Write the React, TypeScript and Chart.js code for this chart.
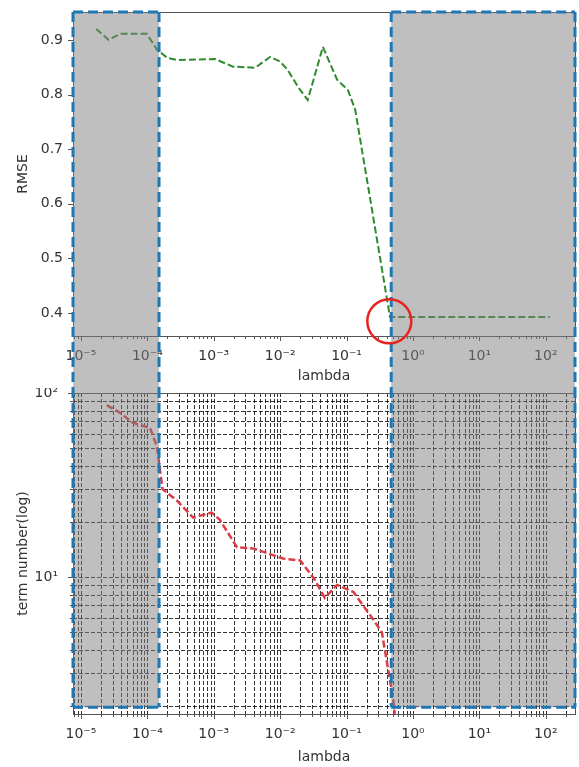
import React, { useEffect, useRef } from 'react';
import { Chart, registerables } from 'chart.js';
Chart.register(...registerables);

// ---------- data ----------
const rmseLambda = [1.7e-5, 2.6e-5, 3.9e-5, 9.8e-5, 1.4e-4, 2.0e-4, 2.8e-4, 1.05e-3, 1.3e-3, 1.95e-3, 4.2e-3, 7.1e-3, 1.0e-2, 1.3e-2, 1.9e-2, 2.6e-2, 4.4e-2, 7.2e-2, 1.05e-1, 1.35e-1, 4.5e-1, 1.0, 3.0, 10, 30, 115];
const rmseValues = [0.920, 0.900, 0.911, 0.911, 0.882, 0.867, 0.863, 0.865, 0.860, 0.851, 0.849, 0.869, 0.860, 0.845, 0.812, 0.790, 0.887, 0.827, 0.808, 0.772, 0.393, 0.393, 0.393, 0.393, 0.393, 0.393];

const termLambda = [2.45e-5, 3.9e-5, 6.0e-5, 1.1e-4, 1.4e-4, 1.55e-4, 1.7e-4, 2.8e-4, 4.9e-4, 9.3e-4, 1.23e-3, 2.24e-3, 3.9e-3, 1.1e-2, 2.0e-2, 3.3e-2, 4.7e-2, 7.2e-2, 1.26e-1, 2.5e-1, 3.4e-1, 0.5, 0.63];
const termValues = [86, 78, 69, 64.5, 51, 38, 30, 26, 21, 22.4, 20.5, 14.5, 14.3, 12.6, 12.3, 9.7, 7.7, 9.05, 8.3, 5.9, 5.0, 2.2, 1];

const xMajorTicks = [1e-5, 1e-4, 1e-3, 1e-2, 1e-1, 1, 10, 100];
const xMajorLabels = ['10\u207B\u2075', '10\u207B\u2074', '10\u207B\u00B3', '10\u207B\u00B2', '10\u207B\u00B9', '10\u2070', '10\u00B9', '10\u00B2'];
const minorMultipliers = [2, 3, 4, 5, 6, 7, 8, 9];
const rmseTicks = [0.4, 0.5, 0.6, 0.7, 0.8, 0.9];
const termMajorTicks = [10, 100];
const termMajorLabels = ['10\u00B9', '10\u00B2'];

const xMin = 7.6e-6;
const xMax = 275;
const rmseMin = 0.358;
const rmseMax = 0.951;
const termMin = 1.8;
const termMax = 100;

// annotation regions (data units)
const leftRegion = [xMin, 1.5e-4];
const rightRegion = [0.47, xMax];
const circleCenter = { x: 0.44, y: 0.385 };
const boxBottomTerm = 1.96;

// ---------- styles ----------
const W = 579;
const TOP_H = 388;
const BOT_H = 379;
const FONT = 'DejaVu Sans';
const TEXT = '#333333';
const SPINE = '#555555';
const GREY = 'rgba(128,128,128,0.5)';
const BLUE = '#1f77b4';
const BLUE_DASH = [10, 5];

function logTickValues(lo: number, hi: number): number[] {
  const out: number[] = [];
  const e0 = Math.floor(Math.log10(lo));
  const e1 = Math.ceil(Math.log10(hi));
  for (let e = e0; e <= e1; e++) {
    for (const m of [1, ...minorMultipliers]) {
      const v = m * Math.pow(10, e);
      if (v >= lo * 1.0001 && v <= hi * 0.9999) out.push(v);
    }
  }
  return out;
}
const isMajor = (v: number) => Math.abs(Math.log10(v) - Math.round(Math.log10(v))) < 1e-9;
const findLabel = (v: number, majors: number[], labels: string[]) => {
  const i = majors.findIndex((m) => Math.abs(m - v) / m < 1e-6);
  return i >= 0 ? labels[i] : '';
};

function drawXTicks(ctx: CanvasRenderingContext2D, scale: any, area: any) {
  ctx.save();
  ctx.strokeStyle = SPINE;
  ctx.lineWidth = 1;
  for (const v of logTickValues(scale.min, scale.max)) {
    const x = Math.round(scale.getPixelForValue(v)) + 0.5;
    const len = isMajor(v) ? 5 : 3;
    ctx.beginPath();
    ctx.moveTo(x, area.bottom);
    ctx.lineTo(x, area.bottom + len);
    ctx.stroke();
  }
  ctx.restore();
}

function drawSpines(ctx: CanvasRenderingContext2D, area: any) {
  ctx.save();
  ctx.strokeStyle = SPINE;
  ctx.lineWidth = 1;
  ctx.strokeRect(Math.round(area.left) + 0.5, Math.round(area.top) + 0.5, Math.round(area.right - area.left), Math.round(area.bottom - area.top));
  ctx.restore();
}

function blueLine(ctx: CanvasRenderingContext2D, x1: number, y1: number, x2: number, y2: number) {
  ctx.save();
  ctx.strokeStyle = BLUE;
  ctx.lineWidth = 3;
  ctx.setLineDash(BLUE_DASH);
  ctx.beginPath();
  ctx.moveTo(x1, y1);
  ctx.lineTo(x2, y2);
  ctx.stroke();
  ctx.restore();
}

const topPlugin = {
  id: 'topDecor',
  afterDatasetsDraw(chart: any) {
    const { ctx, chartArea: a, scales } = chart;
    drawSpines(ctx, a);
    drawXTicks(ctx, scales.x, a);
    ctx.save();
    ctx.strokeStyle = SPINE;
    ctx.lineWidth = 1;
    for (const v of rmseTicks) {
      const y = Math.round(scales.y.getPixelForValue(v)) + 0.5;
      ctx.beginPath();
      ctx.moveTo(a.left - 5, y);
      ctx.lineTo(a.left, y);
      ctx.stroke();
    }
    ctx.restore();
  },
  afterDraw(chart: any) {
    const { ctx, chartArea: a, scales } = chart;
    const xs = scales.x;
    const yBottom = chart.height;
    ctx.save();
    ctx.fillStyle = GREY;
    for (const r of [leftRegion, rightRegion]) {
      const x1 = xs.getPixelForValue(r[0]);
      const x2 = xs.getPixelForValue(r[1]);
      ctx.fillRect(x1, a.top, x2 - x1, yBottom - a.top);
    }
    ctx.restore();
    for (const r of [leftRegion, rightRegion]) {
      const x1 = xs.getPixelForValue(r[0]);
      const x2 = xs.getPixelForValue(r[1]);
      blueLine(ctx, x1, a.top, x2, a.top);
      blueLine(ctx, x1, a.top, x1, yBottom);
      blueLine(ctx, x2, a.top, x2, yBottom);
    }
    const cx = xs.getPixelForValue(circleCenter.x);
    const cy = scales.y.getPixelForValue(circleCenter.y);
    ctx.save();
    ctx.strokeStyle = '#e8221f';
    ctx.lineWidth = 2.5;
    ctx.beginPath();
    ctx.arc(cx, cy, 22, 0, Math.PI * 2);
    ctx.stroke();
    ctx.restore();
  },
};

const bottomPlugin = {
  id: 'bottomDecor',
  beforeDatasetsDraw(chart: any) {
    const { ctx, chartArea: a, scales } = chart;
    ctx.save();
    ctx.strokeStyle = 'rgba(0,0,0,0.8)';
    ctx.lineWidth = 1;
    ctx.setLineDash([4, 2]);
    for (const v of logTickValues(scales.x.min, scales.x.max)) {
      const x = Math.round(scales.x.getPixelForValue(v)) + 0.5;
      ctx.beginPath();
      ctx.moveTo(x, a.top);
      ctx.lineTo(x, a.bottom);
      ctx.stroke();
    }
    for (const v of [...logTickValues(scales.y.min, scales.y.max), termMax]) {
      const y = Math.round(scales.y.getPixelForValue(v)) + 0.5;
      ctx.beginPath();
      ctx.moveTo(a.left, y);
      ctx.lineTo(a.right, y);
      ctx.stroke();
    }
    ctx.restore();
  },
  afterDatasetsDraw(chart: any) {
    const { ctx, chartArea: a, scales } = chart;
    drawSpines(ctx, a);
    drawXTicks(ctx, scales.x, a);
    ctx.save();
    ctx.strokeStyle = SPINE;
    ctx.lineWidth = 1;
    for (const v of [...logTickValues(scales.y.min, scales.y.max), termMax]) {
      const y = Math.round(scales.y.getPixelForValue(v)) + 0.5;
      const len = isMajor(v) ? 5 : 3;
      ctx.beginPath();
      ctx.moveTo(a.left - len, y);
      ctx.lineTo(a.left, y);
      ctx.stroke();
    }
    ctx.restore();
  },
  afterDraw(chart: any) {
    const { ctx, scales } = chart;
    const xs = scales.x;
    const yb = scales.y.getPixelForValue(boxBottomTerm);
    ctx.save();
    ctx.fillStyle = GREY;
    for (const r of [leftRegion, rightRegion]) {
      const x1 = xs.getPixelForValue(r[0]);
      const x2 = xs.getPixelForValue(r[1]);
      ctx.fillRect(x1, 0, x2 - x1, yb);
    }
    ctx.restore();
    for (const r of [leftRegion, rightRegion]) {
      const x1 = xs.getPixelForValue(r[0]);
      const x2 = xs.getPixelForValue(r[1]);
      blueLine(ctx, x1, 0, x1, yb);
      blueLine(ctx, x2, 0, x2, yb);
      blueLine(ctx, x1, yb, x2, yb);
    }
  },
};

const font = { family: FONT, size: 14 };

function zeroPad(s: any) {
  s.paddingTop = 0;
  s.paddingBottom = 0;
  s.paddingLeft = 0;
  s.paddingRight = 0;
}

function xAxis(height: number, titlePadBottom: number) {
  return {
    type: 'logarithmic' as const,
    min: xMin,
    max: xMax,
    afterBuildTicks: (s: any) => {
      s.ticks = logTickValues(s.min, s.max).map((v) => ({ value: v }));
    },
    afterFit: (s: any) => {
      s.height = height;
      zeroPad(s);
    },
    grid: { display: false, drawTicks: true, tickLength: 5 },
    border: { display: false },
    ticks: {
      autoSkip: false,
      maxRotation: 0,
      minRotation: 0,
      padding: 7,
      font,
      color: TEXT,
      callback: (v: any) => findLabel(Number(v), xMajorTicks, xMajorLabels),
    },
    title: { display: true, text: 'lambda', font, color: TEXT, padding: { top: 0, bottom: titlePadBottom } },
  };
}

export default function App() {
  const topRef = useRef<HTMLCanvasElement>(null);
  const botRef = useRef<HTMLCanvasElement>(null);

  useEffect(() => {
    const top = new Chart(topRef.current!, {
      type: 'line',
      data: {
        datasets: [
          {
            data: rmseLambda.map((x, i) => ({ x, y: rmseValues[i] })),
            borderColor: '#2e8b2e',
            borderWidth: 2,
            borderDash: [7, 3],
            pointRadius: 0,
            tension: 0,
            fill: false,
          },
        ],
      },
      options: {
        animation: false,
        responsive: false,
        events: [],
        layout: { padding: { top: 12, right: 4, left: 0, bottom: 0 } },
        plugins: { legend: { display: false }, tooltip: { enabled: false } },
        scales: {
          x: xAxis(TOP_H - 336, 3),
          y: {
            type: 'linear',
            min: rmseMin,
            max: rmseMax,
            afterBuildTicks: (s: any) => {
              s.ticks = rmseTicks.map((v) => ({ value: v }));
            },
            afterFit: (s: any) => {
              s.width = 73;
              zeroPad(s);
            },
            grid: { display: false, drawTicks: true, tickLength: 5 },
            border: { display: false },
            ticks: { autoSkip: false, padding: 5, font, color: TEXT, callback: (v: any) => Number(v).toFixed(1) },
            title: { display: true, text: 'RMSE', font, color: TEXT, padding: { top: 15, bottom: 0 } },
          },
        },
      },
      plugins: [topPlugin],
    } as any);

    const bottom = new Chart(botRef.current!, {
      type: 'line',
      data: {
        datasets: [
          {
            data: termLambda.map((x, i) => ({ x, y: termValues[i] })),
            borderColor: '#dc3b45',
            borderWidth: 2.5,
            borderDash: [7, 3],
            pointRadius: 0,
            tension: 0,
            fill: false,
          },
        ],
      },
      options: {
        animation: false,
        responsive: false,
        events: [],
        layout: { padding: { top: 393 - TOP_H, right: 4, left: 0, bottom: 0 } },
        plugins: { legend: { display: false }, tooltip: { enabled: false } },
        scales: {
          x: xAxis(767 - 714, 1),
          y: {
            type: 'logarithmic',
            min: termMin,
            max: termMax,
            afterBuildTicks: (s: any) => {
              s.ticks = [...logTickValues(s.min, s.max), termMax].map((v) => ({ value: v }));
            },
            afterFit: (s: any) => {
              s.width = 73;
              zeroPad(s);
            },
            grid: { display: false, drawTicks: true, tickLength: 5 },
            border: { display: false },
            ticks: {
              autoSkip: false,
              padding: 10,
              font,
              color: TEXT,
              callback: (v: any) => findLabel(Number(v), termMajorTicks, termMajorLabels),
            },
            title: { display: true, text: 'term number(log)', font, color: TEXT, padding: { top: 15, bottom: 0 } },
          },
        },
      },
      plugins: [bottomPlugin],
    } as any);

    return () => {
      top.destroy();
      bottom.destroy();
    };
  }, []);

  return (
    <div style={{ position: 'absolute', left: 0, top: 0, width: W, height: TOP_H + BOT_H, background: '#fff' }}>
      <canvas ref={topRef} width={W} height={TOP_H} style={{ position: 'absolute', left: 0, top: 0, width: W, height: TOP_H }} />
      <canvas ref={botRef} width={W} height={BOT_H} style={{ position: 'absolute', left: 0, top: TOP_H, width: W, height: BOT_H }} />
    </div>
  );
}
